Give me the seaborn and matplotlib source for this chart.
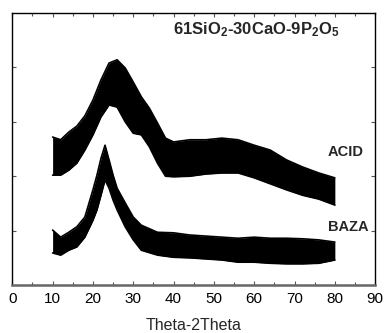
import matplotlib
matplotlib.use("Agg")
import matplotlib.pyplot as plt
import seaborn as sns
import pandas as pd
from matplotlib.ticker import MultipleLocator

# XRD band envelopes (arbitrary intensity units)
acid_theta = [10, 12, 14, 16, 18, 20, 22, 24, 26, 28, 30, 32, 34, 36, 38, 40,
              44, 48, 52, 56, 60, 64, 68, 72, 76, 80]
acid_upper = [272, 267, 281, 292, 311, 340, 377, 408, 414, 399, 373, 346, 325, 298, 270, 263,
              267, 267, 270, 267, 257, 248, 230, 217, 206, 197]
acid_lower = [202, 202, 211, 224, 248, 276, 309, 331, 327, 300, 279, 276, 254, 224, 200, 199,
              200, 204, 206, 206, 197, 186, 175, 165, 158, 147]

baza_theta = [10, 12, 14, 16, 18, 20, 21, 22, 23, 24, 25, 26, 28, 30, 32, 36, 40,
              44, 48, 52, 56, 60, 64, 68, 72, 76, 80]
baza_upper = [101, 88, 97, 107, 125, 175, 202, 233, 257, 230, 202, 178, 151, 125, 110, 97, 96,
              92, 90, 88, 86, 88, 86, 86, 85, 83, 79]
baza_lower = [59, 55, 64, 70, 88, 119, 138, 165, 193, 178, 156, 138, 107, 83, 64, 55, 51,
              50, 48, 46, 42, 42, 40, 39, 39, 40, 46]

sns.set_style("ticks")
plt.rcParams['font.family'] = ['Liberation Sans', 'DejaVu Sans']
plt.rcParams['mathtext.fontset'] = 'custom'
plt.rcParams['mathtext.rm'] = 'Liberation Sans:bold'
plt.rcParams['mathtext.default'] = 'rm'

fig = plt.figure(figsize=(3.84, 3.33), dpi=100)
ax = fig.add_axes([0.032, 0.144, 0.945, 0.817])

for theta, up, lo in [(acid_theta, acid_upper, acid_lower),
                      (baza_theta, baza_upper, baza_lower)]:
    df = pd.DataFrame({'theta': theta, 'upper': up, 'lower': lo})
    ax.fill_between(df['theta'], df['lower'], df['upper'], color='black', lw=0)
    sns.lineplot(data=df, x='theta', y='upper', color='black', lw=1.2, ax=ax)
    sns.lineplot(data=df, x='theta', y='lower', color='black', lw=1.2, ax=ax)

ax.set_xlim(0, 90)
ax.set_ylim(0, 500)
ax.xaxis.set_major_locator(MultipleLocator(10))
ax.xaxis.set_minor_locator(MultipleLocator(5))
ax.set_yticks([100, 200, 300, 400])
ax.set_yticklabels([])
ax.tick_params(axis='both', which='both', direction='in', top=True, right=True,
               colors='#555555', labelcolor='black')
ax.tick_params(axis='both', which='major', length=3, width=0.8)
ax.tick_params(axis='x', which='minor', length=2, width=0.8)
ax.tick_params(axis='x', labelsize=11, pad=5)

for side in ['top', 'left', 'right']:
    ax.spines[side].set_color('black')
    ax.spines[side].set_linewidth(1.0)
ax.spines['bottom'].set_color('#666666')
ax.spines['bottom'].set_linewidth(1.8)

ax.set_xlabel('Theta-2Theta', fontsize=11.5, labelpad=9)
ax.set_ylabel('')

ax.text(39.9, 469, '61SiO$_2$-30CaO-9P$_2$O$_5$', fontsize=12, fontweight='bold',
        ha='left', va='center')
ax.text(78.3, 244, 'ACID', fontsize=10.5, fontweight='bold', ha='left', va='center')
ax.text(78.3, 107, 'BAZA', fontsize=10.5, fontweight='bold', ha='left', va='center')

fig.savefig('out.png', dpi=100)
